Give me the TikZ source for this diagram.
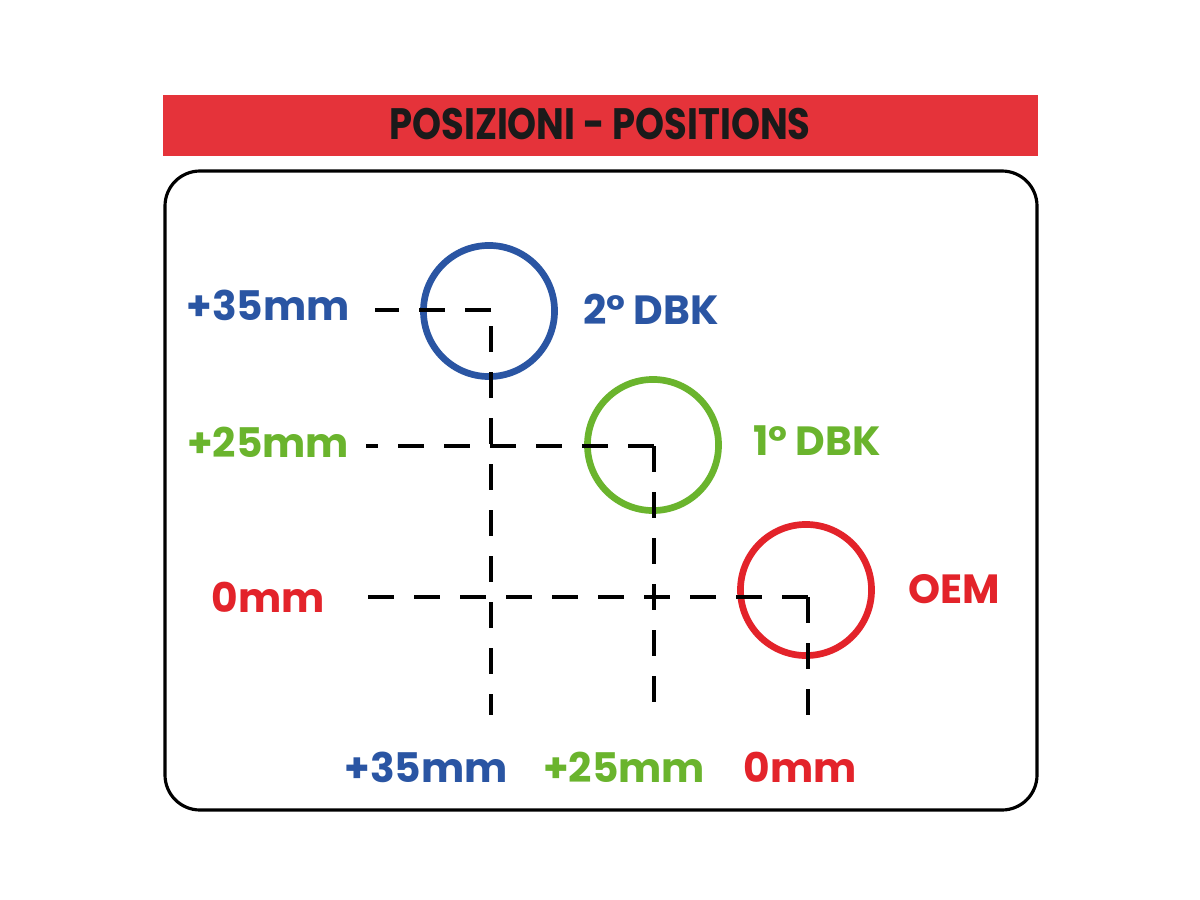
\documentclass[tikz,border=0pt]{standalone}
\usepackage{fontspec}
\setmainfont{Poppins}
\usepackage{graphicx}
\definecolor{barred}{HTML}{E5333A}
\definecolor{cblue}{HTML}{2A55A3}
\definecolor{cgreen}{HTML}{6AB42D}
\definecolor{cred}{HTML}{E3232A}
\definecolor{ink}{HTML}{1A1A1A}
\tikzset{
  lbl/.style={font=\fontsize{11.6pt}{13pt}\selectfont\bfseries, inner sep=0pt, anchor=center},
  ring/.style={circle, draw=#1, line width=1.9pt, minimum size=1.31cm, inner sep=0pt},
  guide/.style={draw=black, line width=1pt, dash pattern=on 0.26cm off 0.2cm},
  frame/.style={draw=black, line width=0.9pt, rounded corners=0.35cm}
}
\begin{document}
\begin{tikzpicture}[x=0.01cm,y=-0.01cm]
\useasboundingbox (0,0) rectangle (1200,900);
\fill[white] (0,0) rectangle (1200,900);
% title bar
\fill[barred] (163,95) rectangle (1038,156);
\node[lbl, text=ink, font=\fontsize{12.5pt}{14pt}\selectfont\bfseries] (title) at (600,124) {\scalebox{0.84}[1]{POSIZIONI - POSITIONS}};
% frame
\draw[frame] (165,171) rectangle (1037,810);
% circles
\node[ring=cblue] (dbk2) at (489,311) {};
\node[ring=cgreen] (dbk1) at (653,445) {};
\node[ring=cred] (oem) at (806,590) {};
% guide coordinates
\coordinate (c2) at (491,310);
\coordinate (c1) at (654,446);
\coordinate (c0) at (808,597);
\coordinate (h2) at (375,310);
\coordinate (h1) at (366,446);
\coordinate (h0) at (367,597);
\coordinate (v2) at (491,715);
\coordinate (v1) at (654,715);
\coordinate (v0) at (808,715);
% dashed guides
\draw[guide] (c2) -- (h2);
\draw[guide, dash phase=0.3cm] (c2) -- (v2);
\draw[guide] (c1) -- (h1);
\draw[guide] (c1) -- (v1);
\draw[guide] (c0) -- (h0);
\draw[guide] (c0) -- (v0);
% labels
\node[lbl, text=cblue] (l35) at (268,305) {+35mm};
\node[lbl, text=cgreen] (l25) at (268,442) {+25mm};
\node[lbl, text=cred] (l0) at (268,597) {0mm};
\node[lbl, text=cblue] (n2) at (651,309) {2° DBK};
\node[lbl, text=cgreen] (n1) at (817,441) {1° DBK};
\node[lbl, text=cred] (n0) at (954,589) {OEM};
\node[lbl, text=cblue] (b35) at (426,767) {+35mm};
\node[lbl, text=cgreen] (b25) at (624,767) {+25mm};
\node[lbl, text=cred] (b0) at (800,767) {0mm};
\end{tikzpicture}
\end{document}
